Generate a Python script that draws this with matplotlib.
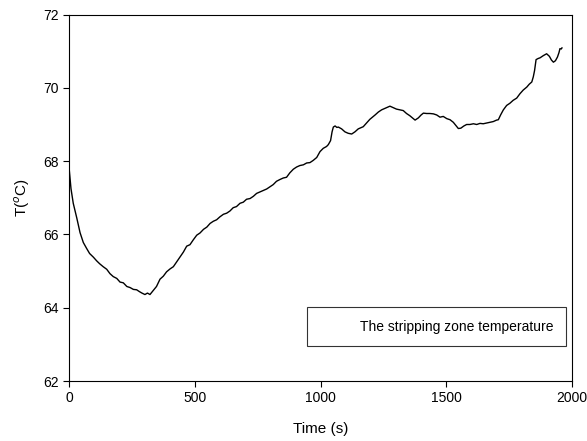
import numpy as np
import matplotlib
matplotlib.use('Agg')
from matplotlib import pyplot as plt
from matplotlib.lines import Line2D

plt.rcParams['font.family'] = ['Liberation Sans', 'DejaVu Sans']

# time (s) and stripping zone temperature (C)
time = [0, 8, 17, 24, 31, 44, 57, 70, 82, 97,
        110, 122, 136, 150, 163, 176, 190, 203, 216, 230,
        243, 256, 269, 280, 290, 302, 312, 322, 335, 348,
        362, 375, 388, 402, 415, 428, 441, 455, 468, 481,
        495, 508, 521, 535, 548, 561, 574, 587, 600, 614,
        627, 640, 653, 666, 680, 693, 706, 720, 733, 746,
        759, 772, 786, 799, 812, 825, 839, 852, 865, 878,
        892, 905, 918, 932, 945, 958, 971, 985, 998, 1011,
        1024, 1031, 1040, 1046, 1051, 1058, 1065, 1071, 1084, 1097,
        1110, 1124, 1137, 1150, 1163, 1170, 1183, 1196, 1210, 1217,
        1230, 1243, 1256, 1270, 1276, 1289, 1302, 1316, 1329, 1342,
        1355, 1369, 1376, 1389, 1400, 1409, 1422, 1435, 1449, 1462,
        1475, 1488, 1502, 1515, 1528, 1540, 1548, 1558, 1570, 1581,
        1594, 1608, 1621, 1634, 1647, 1660, 1674, 1687, 1700, 1707,
        1716, 1727, 1740, 1753, 1766, 1780, 1793, 1806, 1820, 1830,
        1840, 1846, 1851, 1857, 1865, 1873, 1886, 1899, 1910, 1918,
        1926, 1934, 1942, 1948, 1952, 1957, 1960]
temp = [67.85, 67.25, 66.85, 66.65, 66.45, 66.05, 65.78, 65.62, 65.48, 65.38,
        65.28, 65.20, 65.12, 65.05, 64.93, 64.85, 64.80, 64.70, 64.68, 64.58,
        64.55, 64.50, 64.49, 64.44, 64.40, 64.36, 64.40, 64.36, 64.47, 64.58,
        64.78, 64.86, 64.98, 65.06, 65.12, 65.25, 65.38, 65.52, 65.68, 65.72,
        65.86, 65.98, 66.04, 66.14, 66.20, 66.30, 66.36, 66.40, 66.48, 66.55,
        66.58, 66.64, 66.73, 66.76, 66.85, 66.88, 66.96, 66.98, 67.04, 67.12,
        67.16, 67.20, 67.24, 67.30, 67.36, 67.45, 67.50, 67.54, 67.56, 67.68,
        67.78, 67.84, 67.88, 67.90, 67.95, 67.96, 68.02, 68.10, 68.26, 68.35,
        68.40, 68.45, 68.56, 68.80, 68.93, 68.96, 68.92, 68.93, 68.88, 68.80,
        68.76, 68.74, 68.80, 68.88, 68.92, 68.94, 69.04, 69.14, 69.22, 69.26,
        69.34, 69.40, 69.44, 69.48, 69.50, 69.46, 69.42, 69.40, 69.38, 69.30,
        69.24, 69.16, 69.12, 69.18, 69.26, 69.31, 69.30, 69.30, 69.29, 69.26,
        69.20, 69.22, 69.16, 69.13, 69.06, 68.96, 68.89, 68.90, 68.96, 69.00,
        69.00, 69.02, 69.00, 69.03, 69.02, 69.04, 69.06, 69.08, 69.12, 69.13,
        69.26, 69.40, 69.52, 69.58, 69.66, 69.72, 69.84, 69.94, 70.02, 70.10,
        70.16, 70.30, 70.47, 70.77, 70.80, 70.82, 70.88, 70.93, 70.86, 70.76,
        70.70, 70.74, 70.84, 70.96, 71.07, 71.06, 71.09]
legend_label = 'The stripping zone temperature'

fig = plt.figure(figsize=(5.87, 4.41), dpi=100)
ax = fig.add_axes([0.1175, 0.136, 0.857, 0.831])
ax.plot(time, temp, color='black', lw=1.0)

ax.set_xlim(0, 2000)
ax.set_ylim(62, 72)
ax.set_xticks([0, 500, 1000, 1500, 2000])
ax.set_yticks([62, 64, 66, 68, 70, 72])
ax.tick_params(direction='out', length=4, width=0.8, labelsize=10,
               top=False, right=False)
for s in ax.spines.values():
    s.set_linewidth(0.8)

ax.set_xlabel('Time (s)', fontsize=11, labelpad=12)
ax.set_ylabel('T($^o$C)', fontsize=11, labelpad=8)

# legend box with an empty sample line like the original
h = Line2D([], [], color='none')
leg = ax.legend([h], [legend_label], loc='lower right', frameon=True,
                fancybox=False, edgecolor='black', fontsize=10,
                handlelength=2.1, borderpad=0.9, borderaxespad=0,
                bbox_to_anchor=(0.988, 0.0954))
leg.get_frame().set_linewidth(0.8)

plt.savefig('out.png', dpi=100)
